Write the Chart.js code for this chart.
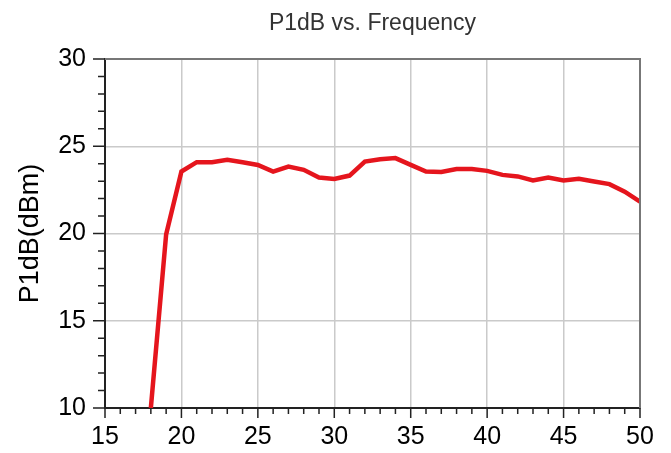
<!DOCTYPE html>
<html>
<head>
<meta charset="utf-8">
<script src="https://cdn.jsdelivr.net/npm/chart.js"></script>
<style>
  body { margin: 0; background: #fff; }
</style>
</head>
<body>
<canvas id="myChart" width="671" height="453"></canvas>
<script>
// frequency (GHz) and P1dB (dBm)
var arrFreq = [18, 19, 20, 21, 22, 23, 24, 25, 26, 27, 28, 29, 30, 31, 32, 33, 34,
               35, 36, 37, 38, 39, 40, 41, 42, 43, 44, 45, 46, 47, 48, 49, 50]
var arrP1dB = [10.0, 19.95, 23.55, 24.09, 24.09, 24.22, 24.08, 23.93, 23.55, 23.84, 23.65, 23.21, 23.12, 23.32, 24.12, 24.26, 24.32,
               23.93, 23.55, 23.53, 23.69, 23.7, 23.59, 23.36, 23.27, 23.04, 23.21, 23.04, 23.13, 22.98, 22.83, 22.4, 21.83]
var xTicks = [15, 20, 25, 30, 35, 40, 45, 50]
var yTicks = [10, 15, 20, 25, 30]

var pts = []
for (let i = 0; i < arrFreq.length; i++) {
    pts.push({ x: arrFreq[i], y: arrP1dB[i] })
}

// outward minor/major ticks + top/right frame
var frameTicks = {
    id: 'frameTicks',
    afterDraw: function(chart) {
        var c = chart.ctx
        var a = chart.chartArea
        var sx = chart.scales.x
        var sy = chart.scales.y
        c.save()
        c.strokeStyle = '#777'
        c.lineWidth = 2
        c.beginPath()
        c.moveTo(a.left, a.top)
        c.lineTo(a.right, a.top)
        c.lineTo(a.right, a.bottom)
        c.stroke()
        c.strokeStyle = '#222'
        c.lineWidth = 1.5
        c.beginPath()
        for (let v = 15; v <= 50; v++) {
            var px = sx.getPixelForValue(v)
            var len = xTicks.indexOf(v) >= 0 ? 10 : 6
            c.moveTo(px, a.bottom)
            c.lineTo(px, a.bottom + len)
        }
        for (let v = 10; v <= 30; v++) {
            var py = sy.getPixelForValue(v)
            var len2 = yTicks.indexOf(v) >= 0 ? 12 : 7
            c.moveTo(a.left, py)
            c.lineTo(a.left - len2, py)
        }
        c.stroke()
        c.restore()
    }
}

new Chart("myChart", {
    type: "line",
    data: {
        datasets: [{
            label: 'P1dB',
            data: pts,
            borderColor: '#e5151d',
            borderWidth: 4.5,
            pointRadius: 0,
            fill: false,
            tension: 0
        }]
    },
    options: {
        responsive: false,
        animation: false,
        layout: { padding: { left: 0, right: 31, top: 0, bottom: 0 } },
        plugins: {
            legend: { display: false },
            tooltip: { enabled: false },
            title: {
                display: true,
                fullSize: false,
                text: 'P1dB vs. Frequency',
                color: '#333',
                font: { family: 'Liberation Sans, Arial, sans-serif', size: 23, weight: 'normal' },
                padding: { top: 10, bottom: 21.4 }
            }
        },
        scales: {
            x: {
                type: 'linear',
                min: 15,
                max: 50,
                afterFit: function(s) { s.height = 45 },
                afterBuildTicks: function(s) {
                    s.ticks = xTicks.map(function(v) { return { value: v } })
                },
                ticks: {
                    color: '#000',
                    padding: 14,
                    maxRotation: 0,
                    font: { family: 'Liberation Sans, Arial, sans-serif', size: 25 }
                },
                grid: { color: '#cacaca', lineWidth: 1.5, drawTicks: false },
                border: { color: '#222', width: 2 }
            },
            y: {
                min: 10,
                max: 30,
                afterFit: function(s) { s.width = 105 },
                afterBuildTicks: function(s) {
                    s.ticks = yTicks.map(function(v) { return { value: v } })
                },
                ticks: {
                    color: '#000',
                    padding: 19,
                    font: { family: 'Liberation Sans, Arial, sans-serif', size: 25 }
                },
                grid: { color: '#cacaca', lineWidth: 1.5, drawTicks: false },
                border: { color: '#222', width: 2 },
                title: {
                    display: true,
                    text: 'P1dB(dBm)',
                    color: '#000',
                    font: { family: 'Liberation Sans, Arial, sans-serif', size: 27 },
                    padding: { top: 14, bottom: 0 }
                }
            }
        }
    },
    plugins: [frameTicks]
});
</script>
</body>
</html>
